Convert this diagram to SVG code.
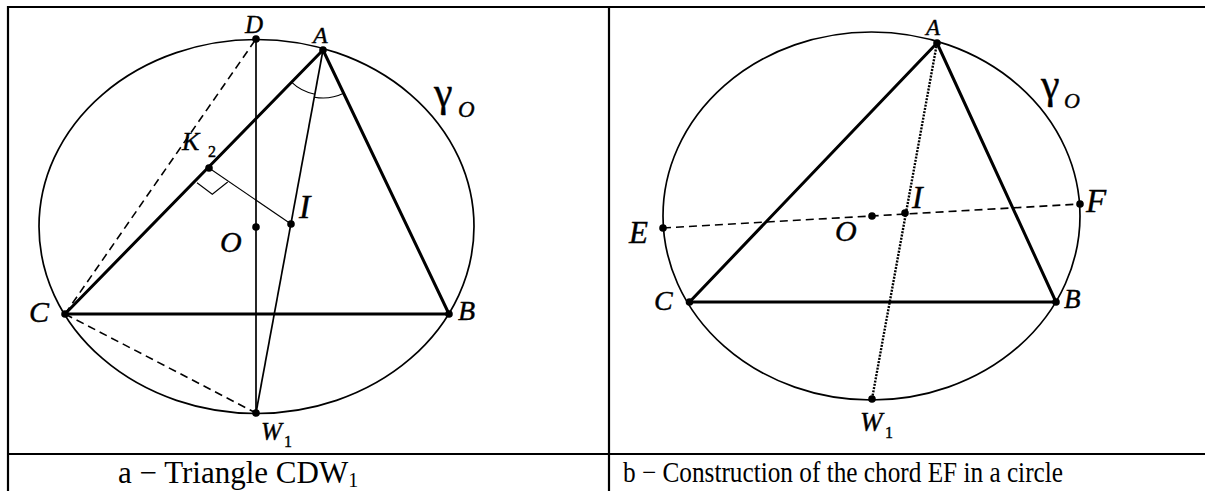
<svg xmlns="http://www.w3.org/2000/svg" width="1205" height="491" viewBox="0 0 1205 491">
<style>
.bg{fill:#fff}
.frame{stroke:#000;stroke-width:2.2;fill:none}
.circ{stroke:#000;stroke-width:1.7;fill:none}
.thick{stroke:#000;stroke-width:3;fill:none;stroke-linecap:round}
.thin{stroke:#000;stroke-width:1.7;fill:none}
.hair{stroke:#000;stroke-width:1.1;fill:none}
.dash{stroke:#000;stroke-width:1.6;fill:none;stroke-dasharray:8 5}
.dot{stroke:#000;stroke-width:2.4;fill:none;stroke-dasharray:2 1.3}
.pt{fill:#000}
.lbl{font-family:"Liberation Serif","Times New Roman",serif;font-style:italic;fill:#000;stroke:#000;stroke-width:0.4}
.gr{font-family:"Liberation Serif","Times New Roman",serif;fill:#000;stroke:#000;stroke-width:0.4}
.cap{font-family:"Liberation Serif","Times New Roman",serif;fill:#000}
</style>
<rect class="bg" x="0" y="0" width="1205" height="491"/>
<g id="table">
<line class="frame" x1="7" y1="7" x2="1205" y2="7"/>
<line class="frame" x1="8" y1="6" x2="8" y2="491"/>
<line class="frame" x1="609" y1="6" x2="609" y2="491"/>
<line class="frame" x1="7" y1="454" x2="1205" y2="454"/>
</g>
<g id="figure-a">
<g id="connectors-a">
<ellipse class="circ" cx="256.5" cy="226.5" rx="217.5" ry="187"/>
<line class="thin" x1="256" y1="39" x2="256" y2="413"/>
<line class="thin" x1="323" y1="50" x2="256" y2="413"/>
<line class="dash" x1="65" y1="314" x2="256" y2="39"/>
<line class="dash" x1="65" y1="314" x2="256" y2="413"/>
<line class="hair" x1="209" y1="168" x2="291" y2="224"/>
<polyline class="hair" points="197,182.7 212.3,194.3 227.7,182"/>
<path class="hair" d="M291.5 82.2 A45 45 0 0 0 314.9 94.2"/>
<path class="hair" d="M314.3 97.2 A48 48 0 0 0 343.7 93.3"/>
<line class="thick" x1="65" y1="314" x2="323" y2="50"/>
<line class="thick" x1="323" y1="50" x2="449" y2="314"/>
<line class="thick" x1="65" y1="314" x2="449" y2="314"/>
</g>
<g id="a-D"><circle class="pt" cx="256" cy="39" r="3.8"/><text class="lbl" x="245" y="33" font-size="25">D</text></g>
<g id="a-A"><circle class="pt" cx="323" cy="50" r="3.8"/><text class="lbl" x="313" y="43" font-size="24">A</text></g>
<g id="a-K2"><circle class="pt" cx="209" cy="168" r="3.8"/><text class="lbl" x="182" y="150" font-size="26">K</text><text class="gr" x="208" y="157" font-size="16">2</text></g>
<g id="a-I"><circle class="pt" cx="291" cy="224" r="3.8"/><text class="lbl" x="299" y="218" font-size="34">I</text></g>
<g id="a-O"><circle class="pt" cx="256" cy="227" r="3.8"/><text class="lbl" x="220" y="252" font-size="30">O</text></g>
<g id="a-C"><circle class="pt" cx="65" cy="314" r="3.8"/><text class="lbl" x="29" y="322" font-size="30">C</text></g>
<g id="a-B"><circle class="pt" cx="449" cy="314" r="3.8"/><text class="lbl" x="458" y="320" font-size="28">B</text></g>
<g id="a-W1"><circle class="pt" cx="256" cy="413" r="3.8"/><text class="lbl" x="261" y="440" font-size="25">W</text><text class="gr" x="284" y="447" font-size="16">1</text></g>
<g id="a-gamma"><text class="gr" x="434" y="106" font-size="42">γ</text><text class="lbl" x="458" y="117" font-size="23">O</text></g>
</g>
<g id="figure-b">
<g id="connectors-b">
<ellipse class="circ" cx="871.5" cy="216" rx="208.5" ry="184"/>
<line class="dash" x1="663" y1="228" x2="1080" y2="204"/>
<line class="dot" x1="937" y1="43" x2="872" y2="399"/>
<line class="thick" x1="689.5" y1="302" x2="937" y2="43"/>
<line class="thick" x1="937" y1="43" x2="1056" y2="302"/>
<line class="thick" x1="689.5" y1="302" x2="1056" y2="302"/>
</g>
<g id="b-A"><circle class="pt" cx="937" cy="43" r="3.8"/><text class="lbl" x="926" y="35" font-size="23">A</text></g>
<g id="b-E"><circle class="pt" cx="663" cy="228" r="3.8"/><text class="lbl" x="629" y="243" font-size="31">E</text></g>
<g id="b-F"><circle class="pt" cx="1080" cy="204" r="3.8"/><text class="lbl" x="1086" y="212" font-size="33">F</text></g>
<g id="b-O"><circle class="pt" cx="872" cy="216" r="3.8"/><text class="lbl" x="835" y="241" font-size="30">O</text></g>
<g id="b-I"><circle class="pt" cx="905" cy="213" r="3.8"/><text class="lbl" x="912" y="208" font-size="32">I</text></g>
<g id="b-C"><circle class="pt" cx="689.5" cy="302" r="3.8"/><text class="lbl" x="654" y="310" font-size="28">C</text></g>
<g id="b-B"><circle class="pt" cx="1056" cy="302" r="3.8"/><text class="lbl" x="1064" y="308" font-size="27">B</text></g>
<g id="b-W1"><circle class="pt" cx="872" cy="399" r="3.8"/><text class="lbl" x="860" y="431" font-size="27">W</text><text class="gr" x="885" y="438" font-size="16">1</text></g>
<g id="b-gamma"><text class="gr" x="1041" y="98" font-size="42">γ</text><text class="lbl" x="1064" y="108" font-size="22">O</text></g>
</g>
<g id="captions">
<text class="cap" x="118" y="483" font-size="31">a − Triangle CDW<tspan font-size="20" dy="4">1</tspan></text>
<text class="cap" x="623" y="482" font-size="29" textLength="440" lengthAdjust="spacingAndGlyphs">b − Construction of the chord EF in a circle</text>
</g>
</svg>
